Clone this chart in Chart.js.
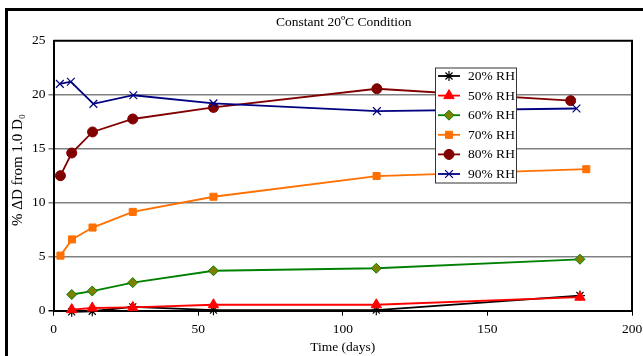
<!DOCTYPE html>
<html>
<head>
<meta charset="utf-8">
<script src="https://cdn.jsdelivr.net/npm/chart.js@4/dist/chart.umd.min.js"></script>
<style>
  html, body { margin:0; padding:0; background:#fff; overflow:hidden; }
  #wrap { position:relative; width:643px; height:356px; }
  #frame { position:absolute; left:5px; top:8px; width:700px; height:400px; border:3px solid #000; box-sizing:border-box; }
  canvas { position:absolute; left:0; top:0; }
</style>
</head>
<body>
<div id="wrap">
  <div id="frame"></div>
  <canvas id="c" width="643" height="356"></canvas>
</div>
<script>
// ---- data ----
const titleText = "Constant 20\u00BAC Condition";
const xTitle = "Time (days)";
const yTitle = "% \u0394D from 1.0 D\u2080";
const seriesNames = ["20% RH", "50% RH", "60% RH", "70% RH", "80% RH", "90% RH"];

const daysShort = [6.3, 13.4, 27.4, 55.3, 111.6, 182];
const rh20 = [-0.1, -0.05, 0.35, 0.05, 0.05, 1.4];
const rh50 = [0.1, 0.25, 0.3, 0.55, 0.55, 1.25];
const rh60 = [1.5, 1.82, 2.6, 3.7, 3.93, 4.76];

const days70 = [2.4, 6.4, 13.5, 27.4, 55.3, 111.7, 184.2];
const rh70 = [5.1, 6.6, 7.7, 9.15, 10.55, 12.47, 13.1];
const days80 = [2.4, 6.3, 13.5, 27.4, 55.3, 111.8, 178.8];
const rh80 = [12.5, 14.6, 16.55, 17.75, 18.82, 20.55, 19.45];
const days90 = [2.2, 6.0, 13.8, 27.6, 55.3, 111.8, 180.8];
const rh90 = [21.0, 21.2, 19.15, 19.95, 19.2, 18.48, 18.72];

const xTicks = [0, 50, 100, 150, 200];
const yTicks = [0, 5, 10, 15, 20, 25];

// ---- build ----
const pts = (xs, ys) => xs.map((x, i) => ({x: x, y: ys[i]}));
const styles = [
  {line:'#000000', fill:'#000000', border:'#000000', ps:'star', r:5},
  {line:'#FF0000', fill:'#FF0000', border:'#FF0000', ps:'triangle', r:6},
  {line:'#008000', fill:'#808000', border:'#008000', ps:'rectRot', r:5},
  {line:'#FF7000', fill:'#FF7000', border:'#FF7000', ps:'rect', r:5},
  {line:'#800000', fill:'#800000', border:'#800000', ps:'circle', r:5},
  {line:'#000080', fill:'#000080', border:'#000080', ps:'crossRot', r:5.5}
];
const seriesData = [
  pts(daysShort, rh20), pts(daysShort, rh50), pts(daysShort, rh60),
  pts(days70, rh70), pts(days80, rh80), pts(days90, rh90)
];
const datasets = seriesData.map((d, i) => ({
  label: seriesNames[i],
  data: d,
  borderColor: styles[i].line,
  backgroundColor: styles[i].fill,
  pointBackgroundColor: styles[i].fill,
  pointBorderColor: styles[i].border,
  pointStyle: styles[i].ps,
  pointRadius: styles[i].r,
  pointBorderWidth: (styles[i].ps === 'star' || styles[i].ps === 'crossRot') ? 1.2 : 1,
  borderWidth: 1.8,
  tension: 0,
  fill: false,
  clip: false,
  order: seriesNames.length - i
}));

const SERIF = "'Liberation Serif', 'Times New Roman', serif";

const framePlugin = {
  id: 'frameAndExtras',
  beforeDatasetsDraw(chart) {
    const {ctx, chartArea: a} = chart;
    ctx.save();
    ctx.strokeStyle = '#000';
    ctx.lineWidth = 2;
    ctx.beginPath();
    ctx.moveTo(a.left, a.top); ctx.lineTo(a.right, a.top); ctx.lineTo(a.right, a.bottom);
    ctx.stroke();
    ctx.restore();
  },
  afterDraw(chart) {
    const {ctx, chartArea: a} = chart;
    ctx.save();
    // title
    ctx.fillStyle = '#000';
    ctx.font = "13.5px " + SERIF;
    ctx.textAlign = 'center';
    ctx.textBaseline = 'middle';
    ctx.fillText(titleText, (a.left + a.right) / 2 + 1, 22);
    // y axis title
    ctx.save();
    ctx.translate(18, 170);
    ctx.rotate(-Math.PI / 2);
    ctx.font = "15px " + SERIF;
    ctx.fillText(yTitle, 0, 0);
    ctx.restore();
    // legend
    const lx = 435, ly = 67.5, lw = 81, lh = 115;
    ctx.fillStyle = '#fff';
    ctx.fillRect(lx, ly, lw, lh);
    ctx.strokeStyle = '#333';
    ctx.lineWidth = 1;
    ctx.strokeRect(lx + 0.5, ly + 0.5, lw, lh);
    chart.data.datasets.forEach((ds, i) => {
      const y = 76 + i * 19.6;
      ctx.strokeStyle = ds.borderColor;
      ctx.lineWidth = 1.8;
      ctx.beginPath(); ctx.moveTo(438, y); ctx.lineTo(460, y); ctx.stroke();
      ctx.fillStyle = ds.pointBackgroundColor;
      ctx.strokeStyle = ds.pointBorderColor;
      ctx.lineWidth = ds.pointBorderWidth;
      Chart.helpers.drawPoint(ctx, {pointStyle: ds.pointStyle, radius: ds.pointRadius, borderWidth: ds.pointBorderWidth, rotation: 0}, 449, y);
      ctx.fillStyle = '#000';
      ctx.font = "13.5px " + SERIF;
      ctx.textAlign = 'left';
      ctx.textBaseline = 'middle';
      ctx.fillText(ds.label, 468, y + 0.5);
    });
    ctx.restore();
  }
};

new Chart(document.getElementById('c'), {
  type: 'line',
  data: { datasets },
  options: {
    responsive: false,
    animation: false,
    layout: { padding: { left: 5, right: 11, top: 40.7, bottom: 0 } },
    plugins: { legend: { display: false }, title: { display: false }, tooltip: { enabled: false } },
    scales: {
      x: {
        type: 'linear', min: 0, max: 200,
        afterBuildTicks: s => { s.ticks = xTicks.map(v => ({value: v})); },
        afterFit: s => { s.height = 45.3; s.paddingRight = 0; s.paddingLeft = 0; },
        grid: { drawOnChartArea: false, drawTicks: true, tickLength: 5, color: '#000', lineWidth: 1 },
        border: { display: true, color: '#000', width: 2 },
        ticks: { color: '#000', font: { family: SERIF, size: 13.5 }, padding: 6, maxRotation: 0 },
        title: { display: true, text: xTitle, color: '#000', font: { family: SERIF, size: 13.5 }, padding: { top: 0, bottom: 0 } }
      },
      y: {
        type: 'linear', min: 0, max: 25,
        afterBuildTicks: s => { s.ticks = yTicks.map(v => ({value: v})); },
        afterFit: s => { s.width = 48.5; },
        grid: {
          color: c => (c.tick && (c.tick.value === 0 || c.tick.value === 25)) ? '#000' : '#808080',
          lineWidth: c => (c.tick && c.tick.value === 25) ? 0 : 1.5,
          drawTicks: true, tickLength: 5
        },
        border: { display: true, color: '#000', width: 2 },
        ticks: { color: '#000', font: { family: SERIF, size: 13.5 }, padding: 3 },
        title: { display: false }
      }
    }
  },
  plugins: [framePlugin]
});
</script>
</body>
</html>
